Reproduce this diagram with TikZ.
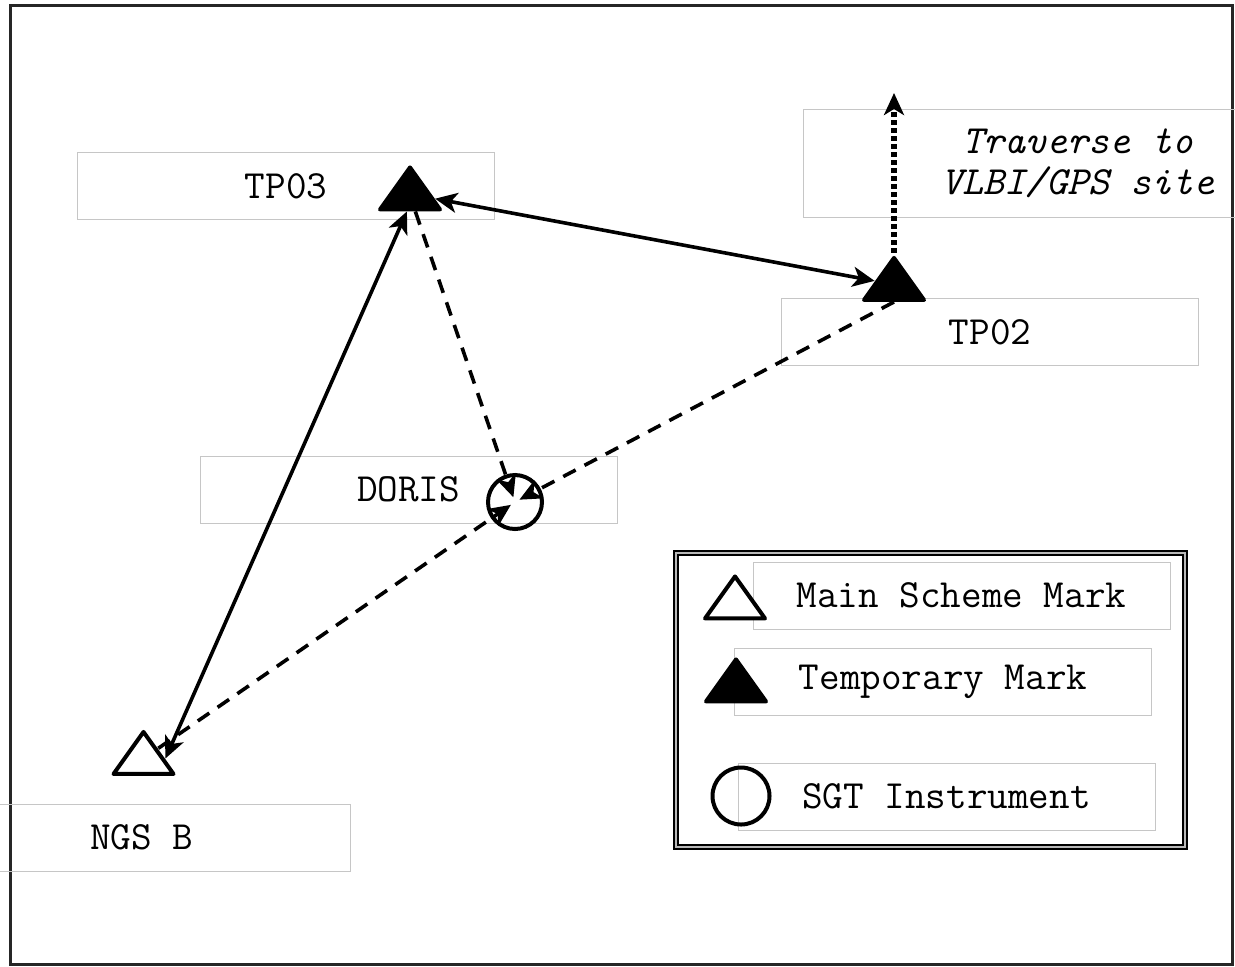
\documentclass[tikz,border=0pt]{standalone}
\usepackage{fontspec}
\usetikzlibrary{arrows.meta, shapes.geometric}

\newcommand\lblfont{\ttfamily\fontsize{20}{20.5}\selectfont}

\tikzset{
  lbl/.style={draw=gray!45, line width=0.5pt, minimum width=208.5pt,
    minimum height=33.5pt, inner sep=0pt, font=\lblfont},
  trimark/.style={isosceles triangle, isosceles triangle stretches,
    shape border rotate=90, minimum width=30pt, minimum height=21pt,
    inner sep=0pt, draw, line width=2pt, line join=round},
  tmark/.style={trimark, fill=black},
  mmark/.style={trimark, fill=white},
  sgtmark/.style={circle, draw, line width=2pt, inner sep=0pt, minimum size=27pt},
  obs/.style={line width=1.8pt},
  dashobs/.style={obs, dash pattern=on 7pt off 5pt},
  dotobs/.style={line width=3pt, dash pattern=on 2.5pt off 1.5pt},
}

\begin{document}
\begin{tikzpicture}[x=0.5pt, y=-0.5pt,
    >={Stealth[length=11pt, width=10pt, inset=3pt]}]
\useasboundingbox (0,0) rectangle (1235,966);

% outer frame
\draw[line width=1.5pt, draw=black!85] (10,5) rectangle (1232,964);

% label boxes
  \node[lbl]   (tp03lbl)  at (286,186)     {TP03};
  \node[lbl]   (tp02lbl)  at (990,332)     {TP02};
  \node[lbl]   (dorislbl) at (408.5,489.5) {DORIS};
  \node[lbl]   (ngsblbl)  at (141.5,837.5) {NGS B};
  \node[lbl, minimum width=275pt, minimum height=54pt, align=center,
        font=\lblfont\itshape] (travlbl) at (1078,163)
{Traverse to\\VLBI/GPS site};

% the marks
  \node[tmark]   (tp03) at (410,194)   {};
  \node[tmark]   (tp02) at (894,284.5) {};
  \node[mmark]   (ngsb) at (143.5,758.5) {};
  \node[sgtmark] (sgt)  at (515,502)   {};
  \coordinate (vlbi) at (894,93);

% legend
  \node[draw, line width=1pt, double=gray!55, double distance=1pt,
        minimum width=254.5pt, minimum height=147pt] (legend) at (930,699.5) {};
  \node[lbl]  (mainlbl) at (961.5,595.5) {Main Scheme Mark};
  \node[lbl]  (templbl) at (943,681.5)   {Temporary Mark};
  \node[lbl]  (sgtlbl)  at (946.5,796.5) {SGT Instrument};
  \node[mmark]   (mainsym) at (735,603) {};
  \node[tmark]   (tempsym) at (736,686) {};
  \node[sgtmark, minimum size=28.5pt] (sgtsym) at (741,796) {};

% the observations
  \path[obs, <->] (tp03) edge (tp02)
        (ngsb.0) edge (tp03.-100);
  \path[dashobs, ->, shorten >=2.5pt] (tp03.-73) edge (sgt.center)
        (tp02.south) edge (sgt.center)
        (ngsb) edge (sgt.center);
  \draw[dotobs, ->] (tp02.apex) -- (vlbi);

\end{tikzpicture}
\end{document}
